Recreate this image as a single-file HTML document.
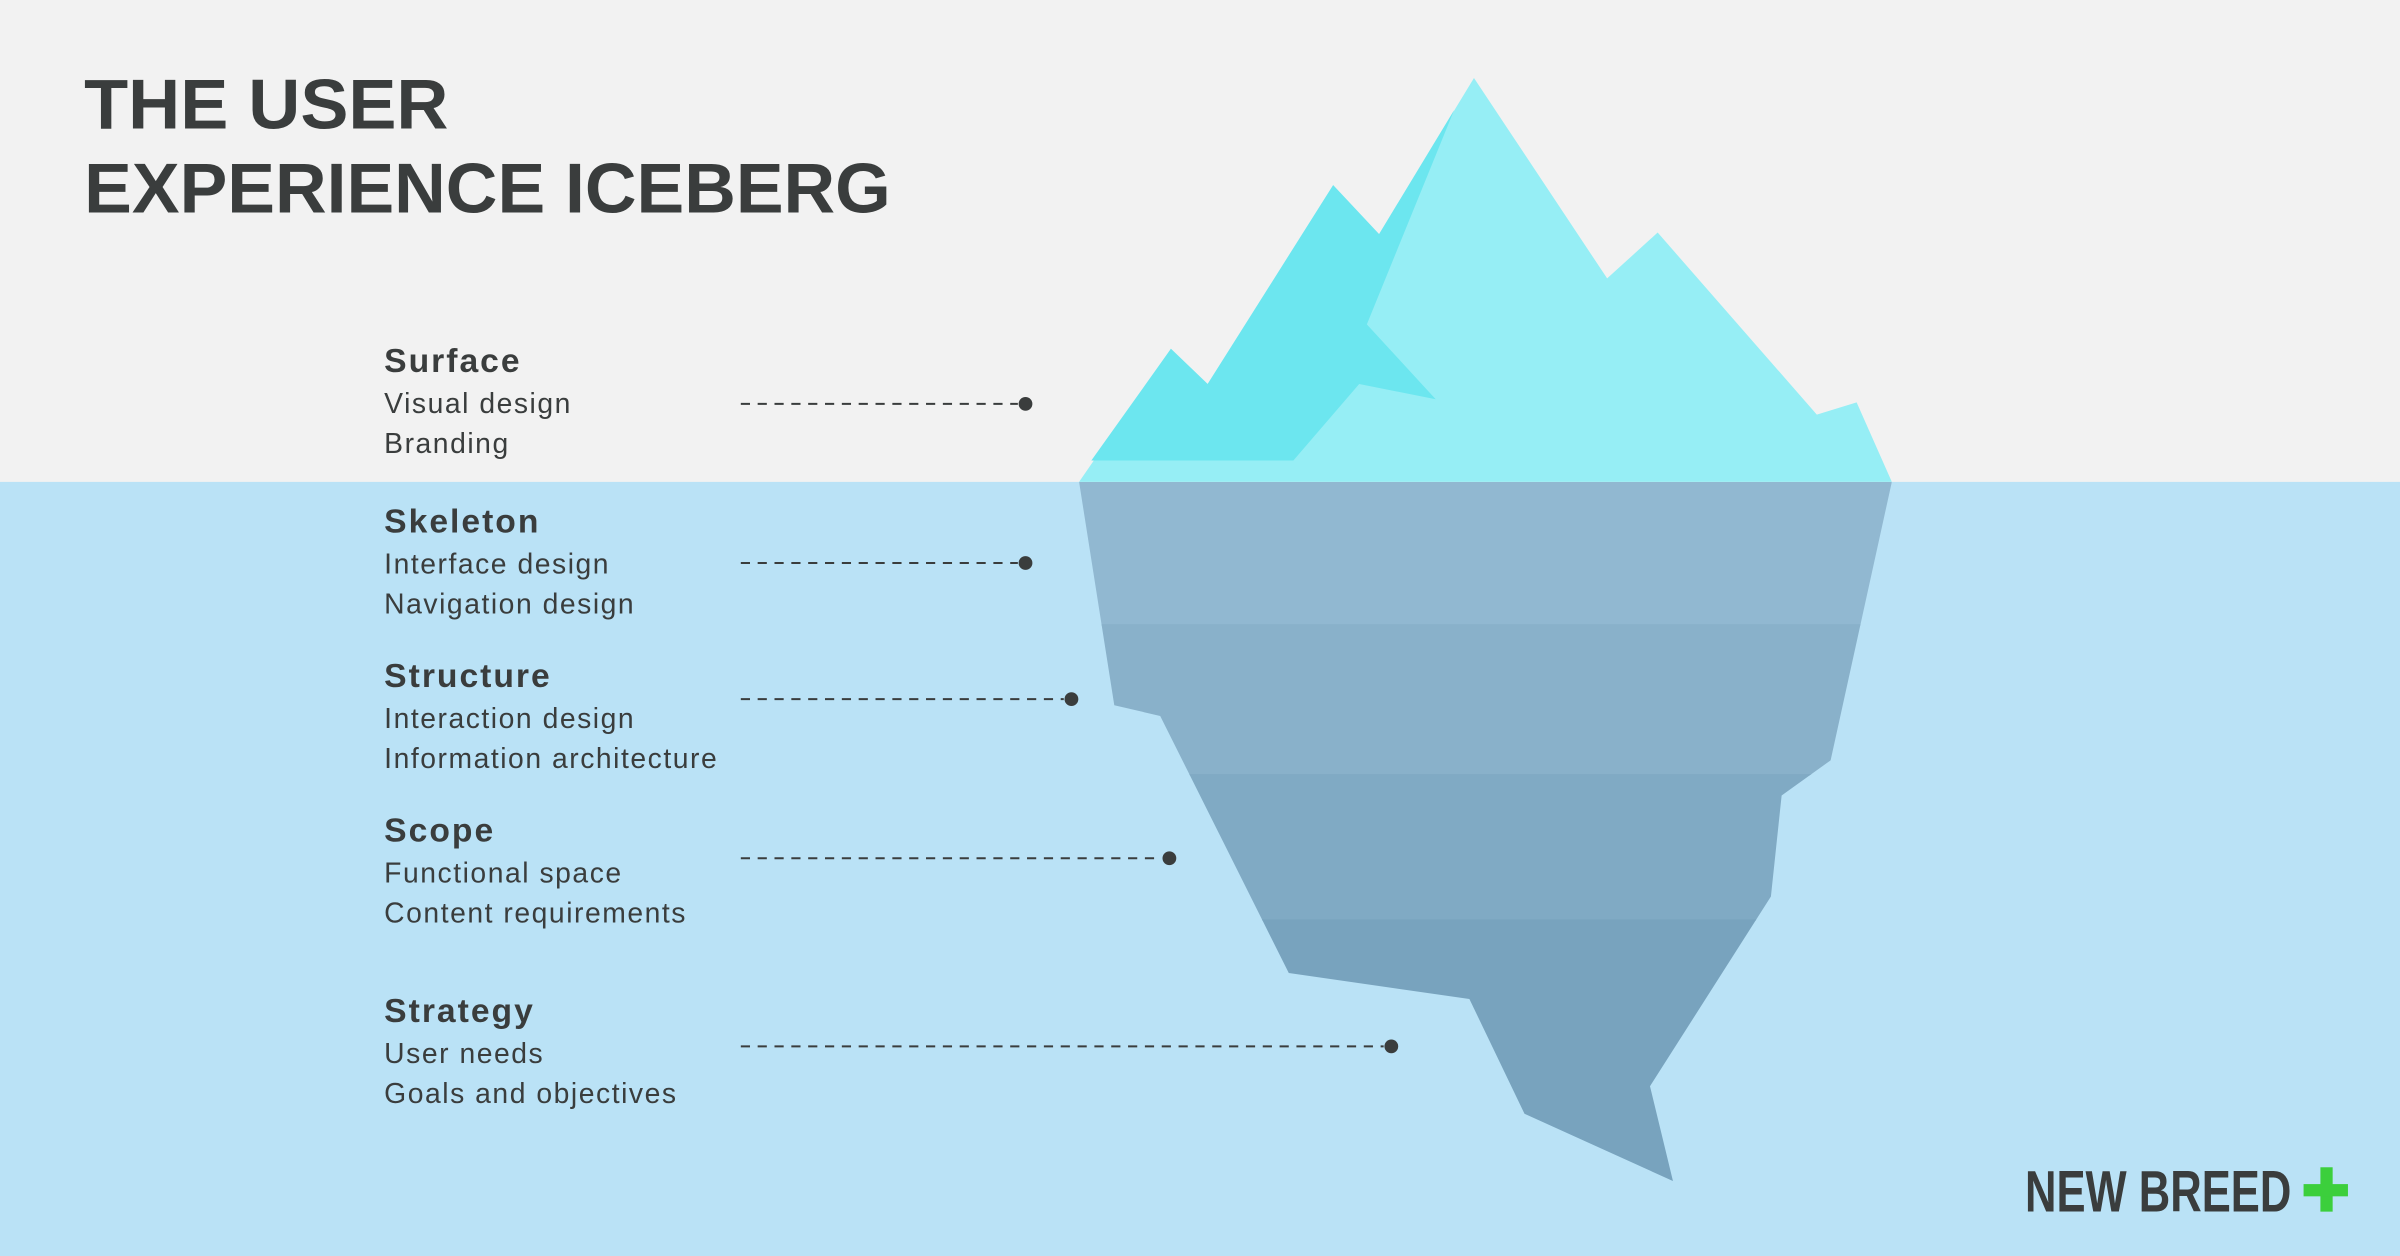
<!DOCTYPE html>
<html><head><meta charset="utf-8"><style>
html,body{margin:0;padding:0;width:2400px;height:1256px;overflow:hidden;background:#f2f2f2}
svg{display:block}
text{font-family:"Liberation Sans",sans-serif;fill:#3a3d3d}
</style></head><body>
<svg width="2400" height="1256" viewBox="0 0 1568 821" preserveAspectRatio="none" xmlns="http://www.w3.org/2000/svg">
<rect x="0" y="0" width="1568" height="316" fill="#f2f2f2"/>
<rect x="0" y="315" width="1568" height="506" fill="#bae2f6"/>
<defs>
<clipPath id="under"><polygon points="705,315 1236,315 1196,497 1164,520 1157,586 1078,710 1093,772 996,728 960,653 842,636 758,468 728,461"/></clipPath>
</defs>
<g clip-path="url(#under)">
<rect x="700" y="315" width="540" height="94" fill="#91b8d1"/>
<rect x="700" y="408" width="540" height="99" fill="#89b1ca"/>
<rect x="700" y="506" width="540" height="96" fill="#80aac4"/>
<rect x="700" y="601" width="540" height="180" fill="#78a3be"/>
</g>
<polygon points="705,315 765,228 789,251 871,121 901,153 963,51 1050,182 1083,152 1187,271 1213,263 1236,315" fill="#96eef5"/>
<polygon points="713,301 765,228 789,251 871,121 901,153 950,72 893,212 938,261 888,251 845,301" fill="#6ce6ef"/>

<text x="55" y="84" font-size="46" font-weight="bold" textLength="238" lengthAdjust="spacingAndGlyphs">THE USER</text>
<text x="55" y="139" font-size="46" font-weight="bold" textLength="527" lengthAdjust="spacingAndGlyphs">EXPERIENCE ICEBERG</text>

<g font-size="18.5" letter-spacing="1">
<text x="251" y="243" font-size="22" font-weight="bold" letter-spacing="1.3">Surface</text>
<text x="251" y="270">Visual design</text>
<text x="251" y="296">Branding</text>
<text x="251" y="348" font-size="22" font-weight="bold" letter-spacing="1.3">Skeleton</text>
<text x="251" y="375">Interface design</text>
<text x="251" y="401">Navigation design</text>
<text x="251" y="449" font-size="22" font-weight="bold" letter-spacing="1.3">Structure</text>
<text x="251" y="476">Interaction design</text>
<text x="251" y="502">Information architecture</text>
<text x="251" y="550" font-size="22" font-weight="bold" letter-spacing="1.3">Scope</text>
<text x="251" y="577">Functional space</text>
<text x="251" y="603">Content requirements</text>
<text x="251" y="668" font-size="22" font-weight="bold" letter-spacing="1.3">Strategy</text>
<text x="251" y="695">User needs</text>
<text x="251" y="721">Goals and objectives</text>
</g>

<g stroke="#3a3d3d" stroke-width="1.3" stroke-dasharray="6,5" fill="none">
<line x1="484" y1="264" x2="665" y2="264"/>
<line x1="484" y1="368" x2="665" y2="368"/>
<line x1="484" y1="457" x2="695" y2="457"/>
<line x1="484" y1="561" x2="759" y2="561"/>
<line x1="484" y1="684" x2="904" y2="684"/>
</g>
<g fill="#3a3d3d">
<circle cx="670" cy="264" r="4.5"/>
<circle cx="670" cy="368" r="4.5"/>
<circle cx="700" cy="457" r="4.5"/>
<circle cx="764" cy="561" r="4.5"/>
<circle cx="909" cy="684" r="4.5"/>
</g>

<text x="1323" y="792" font-size="38" font-weight="bold" textLength="174" lengthAdjust="spacingAndGlyphs">NEW BREED</text>
<rect x="1516" y="763" width="8" height="29" fill="#3ccf3c"/>
<rect x="1505" y="774" width="29" height="8" fill="#3ccf3c"/>
</svg>
</body></html>
